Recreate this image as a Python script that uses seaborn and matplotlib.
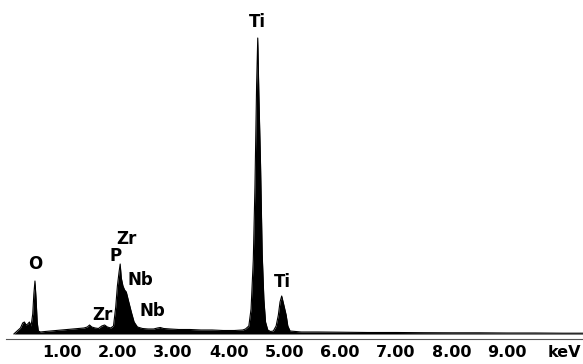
import pandas as pd
import matplotlib.pyplot as plt
import seaborn as sns

# EDS spectrum (energy in keV, counts in arbitrary units)
energy_kev = [0.14, 0.18, 0.22, 0.26, 0.30, 0.33, 0.36, 0.39, 0.42, 0.45,
              0.48, 0.50, 0.52, 0.54, 0.56, 0.58, 0.62, 0.70, 0.80, 0.90,
              1.00, 1.10, 1.20, 1.30, 1.40, 1.46, 1.50, 1.54, 1.60, 1.66,
              1.72, 1.77, 1.82, 1.88, 1.93, 1.97, 2.00, 2.03, 2.05, 2.07,
              2.10, 2.13, 2.16, 2.20, 2.25, 2.30, 2.36, 2.45, 2.55, 2.65,
              2.72, 2.77, 2.83, 2.95, 3.10, 3.30, 3.50, 3.70, 3.90, 4.10,
              4.25, 4.30, 4.36, 4.40, 4.44, 4.47, 4.50, 4.52, 4.54, 4.57,
              4.60, 4.63, 4.66, 4.70, 4.75, 4.80, 4.85, 4.89, 4.92, 4.95,
              4.98, 5.03, 5.06, 5.10, 5.30, 5.60, 6.00, 6.50, 7.00, 7.50,
              8.00, 8.50, 9.00, 9.50, 10.00, 10.36]
counts = [0, 20, 40, 60, 110, 120, 90, 100, 120, 80,
          200, 400, 530, 350, 120, 30, 20, 25, 30, 35,
          40, 45, 50, 55, 60, 70, 90, 70, 60, 55,
          80, 90, 70, 60, 80, 270, 480, 620, 700, 560,
          480, 440, 420, 330, 220, 120, 70, 55, 50, 50,
          60, 65, 55, 50, 45, 45, 40, 40, 35, 35,
          40, 50, 80, 250, 740, 1480, 2500, 2960, 2400, 1700,
          800, 350, 120, 40, 25, 30, 80, 190, 320, 380,
          310, 190, 80, 30, 20, 20, 18, 15, 15, 13,
          12, 12, 10, 10, 8, 8]

# peak labels
peak_names = ["O", "P", "Zr", "Nb", "Zr", "Nb", "Ti", "Ti"]
peak_label_x = [0.52, 1.96, 2.17, 2.41, 1.74, 2.62, 4.51, 4.96]
peak_label_y = [700, 780, 950, 540, 190, 230, 3120, 520]

tick_values = [1, 2, 3, 4, 5, 6, 7, 8, 9]
tick_labels = [f"{v:.2f}" for v in tick_values]
unit_pos = 10.03
unit_label = "keV"

sns.set_style("white")
plt.rcParams['font.family'] = ['DejaVu Sans']

spec = pd.DataFrame({"energy": energy_kev, "counts": counts})

fig = plt.figure(figsize=(5.83, 3.64), dpi=100)
ax = fig.add_axes([6 / 583, 1 - 339 / 364, 1 - 6 / 583, 339 / 364])

sns.lineplot(data=spec, x="energy", y="counts", color="black", lw=0.8, ax=ax)
ax.fill_between(spec["energy"], spec["counts"], 0, color="black", lw=0)

for name, x, y in zip(peak_names, peak_label_x, peak_label_y):
    ax.text(x, y, name, ha="center", va="center", fontsize=12,
            fontweight="bold", color="black")

ax.set_xlim(0, 10.36)
ax.set_ylim(-50, 3340)
ax.set_xticks(tick_values)
ax.set_xticklabels(tick_labels, fontsize=11.5, fontweight="bold", color="black")
ax.set_xticks([unit_pos], minor=True)
ax.set_xticklabels([unit_label], minor=True, fontsize=11.5, fontweight="bold",
                   color="black")
ax.tick_params(axis="x", which="major", direction="out", length=3, width=0.8,
               color="#555555", pad=1.5)
ax.tick_params(axis="x", which="minor", length=0, pad=4.5)
ax.set_yticks([])
ax.set_xlabel("")
ax.set_ylabel("")

for side in ["top", "right", "left"]:
    ax.spines[side].set_visible(False)
ax.spines["bottom"].set_color("#555555")
ax.spines["bottom"].set_linewidth(0.8)

fig.savefig("out.png", dpi=100)
plt.close()
